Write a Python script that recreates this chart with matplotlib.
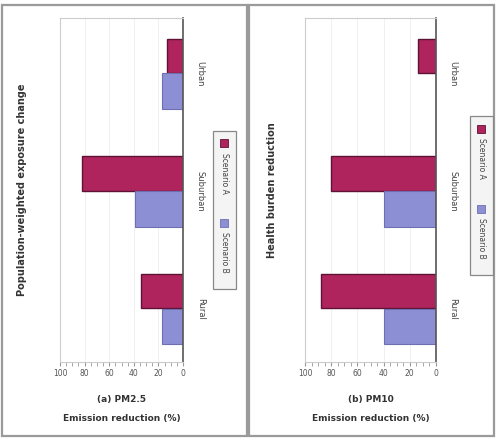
import matplotlib
matplotlib.use("Agg")
import matplotlib.pyplot as plt
from matplotlib.patches import Rectangle
import numpy as np

# Data
categories = ["Urban", "Suburban", "Rural"]
left_first = [13, 82, 34]
left_second = [17, 39, 17]
right_first = [14, 80, 88]
right_second = [0, 40, 40]
series_names = ["Scenario A", "Scenario B"]
tick_values = [0, 20, 40, 60, 80, 100]

c_first, e_first = "#b0245e", "#5e1235"
c_second, e_second = "#8d8fd4", "#6d6fb0"

fig = plt.figure(figsize=(4.96, 4.41), dpi=100)
fig.patch.set_facecolor("white")

# outer frames and panel divider
for (x0, w) in [(0.004, 0.494), (0.502, 0.494)]:
    fig.add_artist(Rectangle((x0, 0.012), w, 0.976, transform=fig.transFigure,
                             fill=False, ec="#9a9a9a", lw=1.6))


def vertical_legend(xc, yc):
    # box holding two legend entries, read top to bottom
    w, h = 0.046, 0.36
    fig.add_artist(Rectangle((xc - w / 2, yc - h / 2), w, h, transform=fig.transFigure,
                             fc="#f4f4f4", ec="#888888", lw=0.9))
    sw, sh = 0.016, 0.018
    for k, (name, col, ec) in enumerate([(series_names[0], c_first, e_first),
                                          (series_names[1], c_second, e_second)]):
        top = yc + h / 2 - 0.02 - k * (h / 2)
        fig.add_artist(Rectangle((xc - sw / 2, top - sh), sw, sh, transform=fig.transFigure,
                                 fc=col, ec=ec, lw=0.6))
        fig.text(xc, top - sh - 0.012, name, rotation=270, ha="center", va="top",
                 fontsize=5.5, color="#444444")


def panel(rect, first, second, ylabel, title1, title2, cat_x, pad):
    ax = fig.add_axes(rect)
    y = np.arange(len(categories))
    ax.barh(y - 0.15, first, height=0.29, color=c_first, edgecolor=e_first, lw=1.0)
    ax.barh(y + 0.15, second, height=0.30, color=c_second, edgecolor=e_second, lw=0.8)
    ax.set_xlim(100, 0)
    ax.set_ylim(2.45, -0.47)
    ax.set_xticks(tick_values)
    ax.set_xticks(np.arange(0, 101, 5), minor=True)
    ax.set_xticklabels([str(v) for v in tick_values], fontsize=5.5, color="#555555")
    ax.tick_params(axis="x", which="both", length=3, color="#999999", pad=2)
    ax.set_yticks([])
    for s in ["left", "top", "bottom"]:
        ax.spines[s].set_color("#cccccc")
        ax.spines[s].set_linewidth(0.8)
    ax.spines["right"].set_color("#555555")
    ax.spines["right"].set_linewidth(1.2)
    ax.xaxis.grid(True, color="#eeeeee", lw=0.6)
    ax.set_axisbelow(True)
    # category labels on the right of the axis line
    for yi, cat in zip(y, categories):
        ax.text(cat_x, yi, cat, transform=ax.get_yaxis_transform(), rotation=270,
                ha="center", va="center", fontsize=6, color="#444444")
    ax.set_ylabel(ylabel, fontsize=7, fontweight="bold", color="#333333", labelpad=pad)
    cx = rect[0] + rect[2] / 2
    fig.text(cx, 0.093, title1, ha="center", va="center", fontsize=6.5,
             fontweight="bold", color="#333333")
    fig.text(cx, 0.052, title2, ha="center", va="center", fontsize=6.5,
             fontweight="bold", color="#333333")
    return ax

panel([0.121, 0.179, 0.248, 0.780], left_first, left_second,
      "Population-weighted exposure change", "(a) PM2.5", "Emission reduction (%)",
      1.14, 24)
panel([0.615, 0.179, 0.264, 0.780], right_first, right_second,
      "Health burden reduction", "(b) PM10", "Emission reduction (%)",
      1.13, 20)

vertical_legend(0.452, 0.524)
vertical_legend(0.970, 0.556)

fig.savefig("out.png", dpi=100)
